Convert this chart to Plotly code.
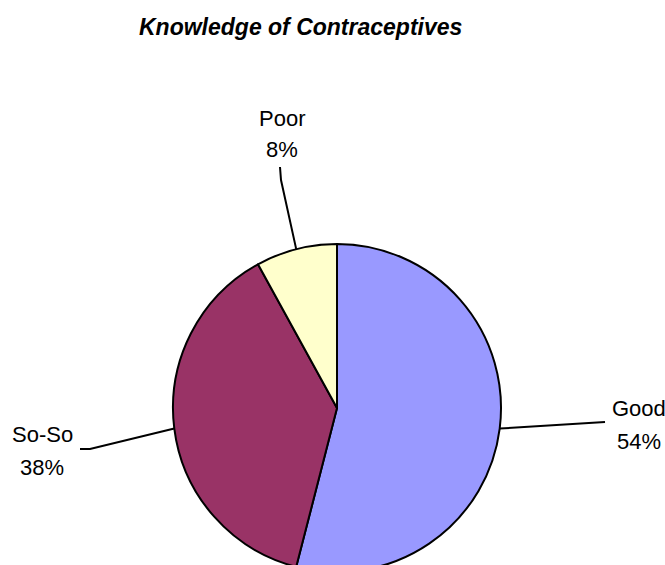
import numpy as np
import plotly.graph_objects as go

labels = ["Good", "So-So", "Poor"]
values = [54, 38, 8]
colors = ["#9999FF", "#993366", "#FFFFCC"]
title = "Knowledge of Contraceptives"

W, H = 665, 580
CX, CY, R = 337, 408, 164  # pie centre and radius in pixels (from top-left)

# label centres (x, name line y, percent line y) and leader line bends, in pixels
label_pos = {"Good": (639, 408, 441), "So-So": (42, 434, 467), "Poor": (282, 118, 149)}
leader_ends = {
    "Good": [(605, 422)],
    "So-So": [(90, 449), (80, 449)],
    "Poor": [(281, 180), (280, 167)],
}

FONT = "Liberation Sans, Arial, sans-serif"

total = sum(values)
frac = np.array(values) / total
mid = (np.cumsum(frac) - frac / 2) * 2 * np.pi
edge_x = CX + R * np.sin(mid)
edge_y = CY - R * np.cos(mid)

fig = go.Figure()

fig.add_trace(go.Pie(
    labels=labels,
    values=values,
    sort=False,
    direction="clockwise",
    rotation=0,
    marker=dict(colors=colors, line=dict(color="black", width=2)),
    textinfo="none",
    hoverinfo="label+percent",
    showlegend=False,
    domain=dict(x=[(CX - R) / W, (CX + R) / W], y=[(H - CY - R) / H, (H - CY + R) / H]),
))

annotations = []
for i, name in enumerate(labels):
    pts = [(edge_x[i], edge_y[i])] + leader_ends[name]
    fig.add_trace(go.Scatter(
        x=[p[0] for p in pts], y=[p[1] for p in pts],
        mode="lines", line=dict(color="black", width=2),
        hoverinfo="skip", showlegend=False,
    ))
    lx, ly1, ly2 = label_pos[name]
    pct = f"{round(values[i] / total * 100)}%"
    for txt, ly in [(name, ly1), (pct, ly2)]:
        annotations.append(dict(
            x=lx, y=ly, xref="x", yref="y", text=txt, showarrow=False,
            xanchor="center", yanchor="middle",
            font=dict(family=FONT, size=22, color="black"),
        ))

annotations.append(dict(
    x=300, y=27, xref="x", yref="y", text=title, showarrow=False,
    xanchor="center", yanchor="middle",
    font=dict(family=FONT, size=23, color="black", weight="bold", style="italic"),
))

fig.update_layout(
    width=W, height=H,
    margin=dict(l=0, r=0, t=0, b=0, pad=0),
    paper_bgcolor="white", plot_bgcolor="rgba(0,0,0,0)",
    xaxis=dict(range=[0, W], visible=False, fixedrange=True, domain=[0, 1]),
    yaxis=dict(range=[H, 0], visible=False, fixedrange=True, domain=[0, 1]),
    annotations=annotations,
)

fig.write_html(
    "out.html",
    config={"displayModeBar": False},
    post_script="document.body.style.margin='0';document.body.style.overflow='hidden';",
)
